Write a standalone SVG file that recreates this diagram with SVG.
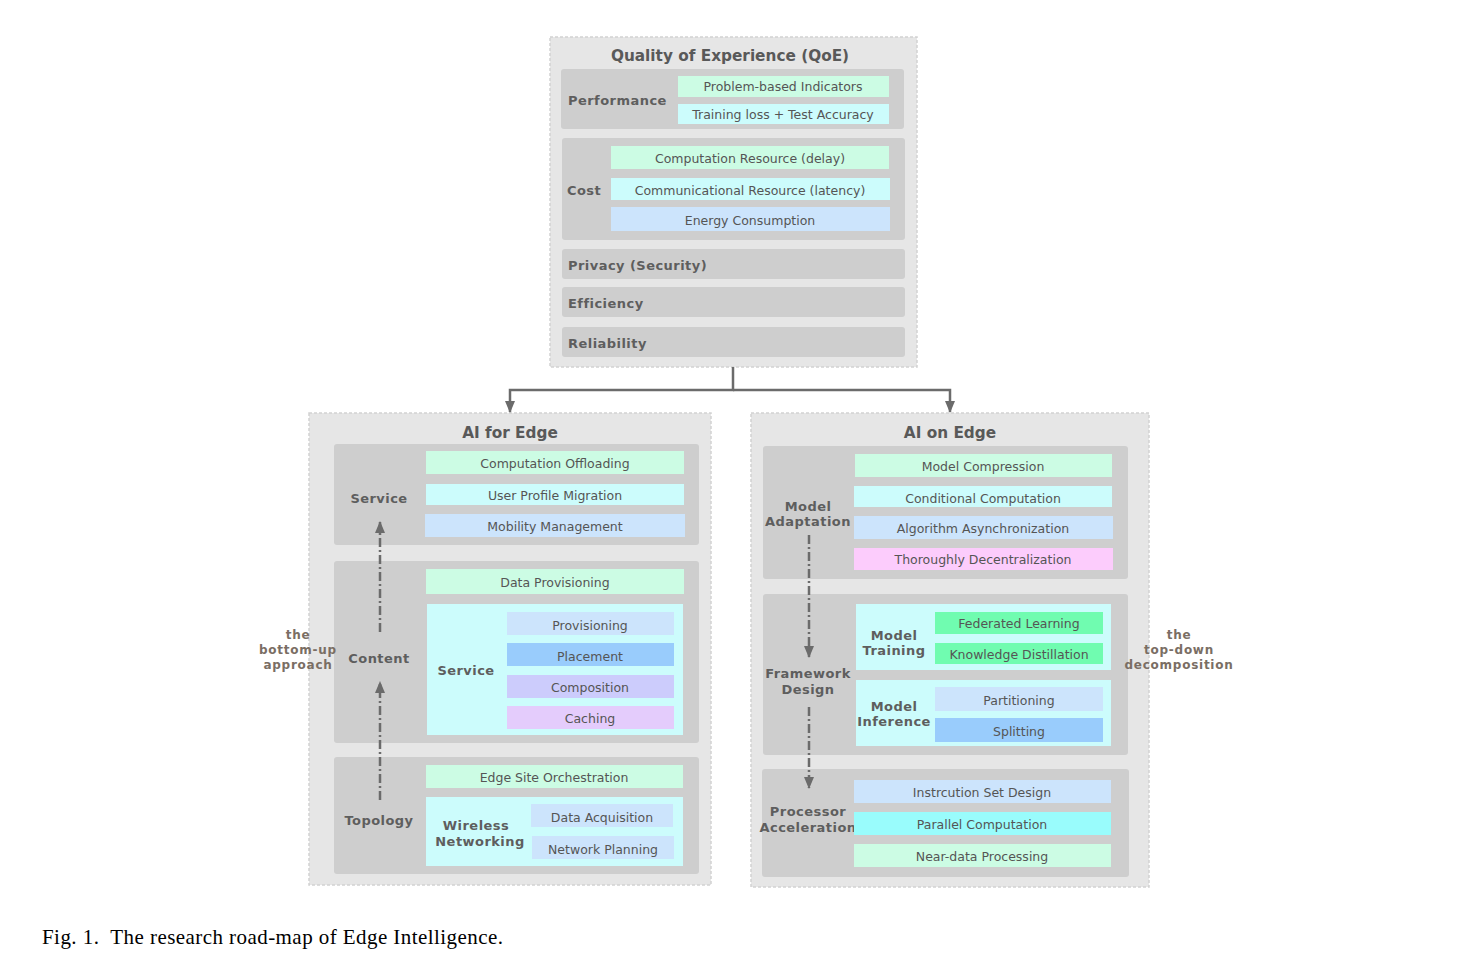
<svg xmlns="http://www.w3.org/2000/svg" width="1474" height="969" viewBox="0 0 1474 969">
<defs>
<style>
.outer{fill:#e6e6e6;stroke:#d2d2d2;stroke-width:1.5;stroke-dasharray:3 2}
.grp{fill:#cecece}
.sub{fill:#ccfcfc}
.mint{fill:#ccfce4}
.cyan{fill:#ccfcfc}
.lb{fill:#cce4fc}
.blue{fill:#99ccfc}
.lav{fill:#ccccfc}
.purp{fill:#e4ccfc}
.pink{fill:#fcccfc}
.green{fill:#70fcb0}
.aqua{fill:#99fcfc}
.it{font-family:"DejaVu Sans",Verdana,sans-serif;font-size:12.5px;fill:#555;text-anchor:middle}
.lbl{font-family:"DejaVu Sans",Verdana,sans-serif;font-size:13px;font-weight:bold;fill:#5e5e5e;letter-spacing:0.45px}
.ttl{font-family:"DejaVu Sans",Verdana,sans-serif;font-size:15.3px;font-weight:bold;fill:#595959;text-anchor:middle}
.side{font-family:"DejaVu Sans",Verdana,sans-serif;font-size:12px;font-weight:bold;fill:#7a6e64;text-anchor:middle;letter-spacing:0.75px}
.conn{fill:none;stroke:#6b6b6b;stroke-width:2.5}
.dash{fill:none;stroke:#6b6b6b;stroke-width:2.5;stroke-dasharray:9 3 2 3}
.cap{font-family:"Liberation Serif","Times New Roman",serif;font-size:21px;fill:#000}
</style>
<marker id="ah" viewBox="0 0 12 10" refX="11" refY="5" markerWidth="4.8" markerHeight="4" orient="auto" markerUnits="strokeWidth">
<path d="M0,0 L12,5 L0,10 z" fill="#6b6b6b"/>
</marker>
</defs>
<rect width="1474" height="969" fill="#fff"/>

<g id="qoe">
<rect class="outer" x="550" y="37" width="367" height="330"/>
<text class="ttl" x="730" y="61">Quality of Experience (QoE)</text>
</g>
<g id="performance">
<rect class="grp" x="561" y="69" width="343" height="60" rx="3"/>
<text class="lbl" x="568" y="105">Performance</text>
<rect class="mint" x="678" y="76" width="211" height="21"/>
<text class="it" x="783" y="91">Problem-based Indicators</text>
<rect class="cyan" x="678" y="104" width="211" height="20"/>
<text class="it" x="783" y="119">Training loss + Test Accuracy</text>
</g>
<g id="cost">
<rect class="grp" x="562" y="138" width="343" height="102" rx="3"/>
<text class="lbl" x="567" y="195">Cost</text>
<rect class="mint" x="611" y="146" width="278" height="23"/>
<text class="it" x="750" y="163">Computation Resource (delay)</text>
<rect class="cyan" x="611" y="178" width="279" height="22"/>
<text class="it" x="750" y="195">Communicational Resource (latency)</text>
<rect class="lb" x="611" y="207" width="279" height="24"/>
<text class="it" x="750" y="225">Energy Consumption</text>
</g>
<g id="privacy">
<rect class="grp" x="562" y="249" width="343" height="30" rx="3"/>
<text class="lbl" x="568" y="270">Privacy (Security)</text>
</g>
<g id="efficiency">
<rect class="grp" x="562" y="287" width="343" height="30" rx="3"/>
<text class="lbl" x="568" y="308">Efficiency</text>
</g>
<g id="reliability">
<rect class="grp" x="562" y="327" width="343" height="30" rx="3"/>
<text class="lbl" x="568" y="348">Reliability</text>
</g>

<g id="ai-for-edge">
<rect class="outer" x="309" y="413" width="402" height="472"/>
<text class="ttl" x="510" y="438">AI for Edge</text>
</g>
<g id="afe-service">
<rect class="grp" x="334" y="444" width="365" height="101" rx="3"/>
<text class="lbl" x="379" y="503" text-anchor="middle">Service</text>
<rect class="mint" x="426" y="451" width="258" height="23"/>
<text class="it" x="555" y="468">Computation Offloading</text>
<rect class="cyan" x="426" y="484" width="258" height="21"/>
<text class="it" x="555" y="500">User Profile Migration</text>
<rect class="lb" x="425" y="514" width="260" height="23"/>
<text class="it" x="555" y="531">Mobility Management</text>
</g>
<g id="afe-content">
<rect class="grp" x="334" y="561" width="365" height="182" rx="3"/>
<text class="lbl" x="379" y="663" text-anchor="middle">Content</text>
<rect class="mint" x="426" y="569" width="258" height="25"/>
<text class="it" x="555" y="587">Data Provisioning</text>
<rect class="sub" x="427" y="604" width="256" height="131"/>
<text class="lbl" x="466" y="675" text-anchor="middle">Service</text>
<rect class="lb" x="507" y="612" width="167" height="23"/>
<text class="it" x="590" y="630">Provisioning</text>
<rect class="blue" x="507" y="643" width="167" height="23"/>
<text class="it" x="590" y="661">Placement</text>
<rect class="lav" x="507" y="675" width="167" height="23"/>
<text class="it" x="590" y="692">Composition</text>
<rect class="purp" x="507" y="706" width="167" height="23"/>
<text class="it" x="590" y="723">Caching</text>
</g>
<g id="afe-topology">
<rect class="grp" x="334" y="757" width="365" height="117" rx="3"/>
<text class="lbl" x="379" y="825" text-anchor="middle">Topology</text>
<rect class="mint" x="426" y="765" width="257" height="23"/>
<text class="it" x="554" y="782">Edge Site Orchestration</text>
<rect class="sub" x="426" y="797" width="257" height="69"/>
<text class="lbl" x="476" y="830" text-anchor="middle">Wireless</text>
<text class="lbl" x="480" y="846" text-anchor="middle">Networking</text>
<rect class="lb" x="531" y="804" width="142" height="23"/>
<text class="it" x="602" y="822">Data Acquisition</text>
<rect class="lb" x="532" y="836" width="142" height="23"/>
<text class="it" x="603" y="854">Network Planning</text>
</g>
<g id="bottom-up-label">
<text class="side" x="298" y="639">the</text>
<text class="side" x="298" y="654">bottom-up</text>
<text class="side" x="298" y="669">approach</text>
</g>

<g id="ai-on-edge">
<rect class="outer" x="751" y="413" width="398" height="474"/>
<text class="ttl" x="950" y="438">AI on Edge</text>
</g>
<g id="aoe-model-adaptation">
<rect class="grp" x="763" y="446" width="365" height="133" rx="3"/>
<text class="lbl" x="808" y="511" text-anchor="middle">Model</text>
<text class="lbl" x="808" y="526" text-anchor="middle">Adaptation</text>
<rect class="mint" x="855" y="454" width="257" height="23"/>
<text class="it" x="983" y="471">Model Compression</text>
<rect class="cyan" x="854" y="486" width="258" height="21"/>
<text class="it" x="983" y="503">Conditional Computation</text>
<rect class="lb" x="854" y="516" width="259" height="23"/>
<text class="it" x="983" y="533">Algorithm Asynchronization</text>
<rect class="pink" x="854" y="548" width="259" height="22"/>
<text class="it" x="983" y="564">Thoroughly Decentralization</text>
</g>
<g id="aoe-framework-design">
<rect class="grp" x="763" y="594" width="365" height="161" rx="3"/>
<text class="lbl" x="808" y="678" text-anchor="middle">Framework</text>
<text class="lbl" x="808" y="694" text-anchor="middle">Design</text>
<rect class="sub" x="856" y="604" width="255" height="66"/>
<text class="lbl" x="894" y="640" text-anchor="middle">Model</text>
<text class="lbl" x="894" y="655" text-anchor="middle">Training</text>
<rect class="green" x="935" y="612" width="168" height="22"/>
<text class="it" x="1019" y="628">Federated Learning</text>
<rect class="green" x="935" y="643" width="168" height="21"/>
<text class="it" x="1019" y="659">Knowledge Distillation</text>
<rect class="sub" x="856" y="680" width="255" height="66"/>
<text class="lbl" x="894" y="711" text-anchor="middle">Model</text>
<text class="lbl" x="894" y="726" text-anchor="middle">Inference</text>
<rect class="lb" x="935" y="687" width="168" height="24"/>
<text class="it" x="1019" y="705">Partitioning</text>
<rect class="blue" x="935" y="718" width="168" height="24"/>
<text class="it" x="1019" y="736">Splitting</text>
</g>
<g id="aoe-processor-acceleration">
<rect class="grp" x="762" y="769" width="367" height="108" rx="3"/>
<text class="lbl" x="808" y="816" text-anchor="middle">Processor</text>
<text class="lbl" x="808" y="832" text-anchor="middle">Acceleration</text>
<rect class="lb" x="854" y="780" width="257" height="23"/>
<text class="it" x="982" y="797">Instrcution Set Design</text>
<rect class="aqua" x="854" y="812" width="257" height="23"/>
<text class="it" x="982" y="829">Parallel Computation</text>
<rect class="mint" x="854" y="844" width="257" height="23"/>
<text class="it" x="982" y="861">Near-data Processing</text>
</g>
<g id="top-down-label">
<text class="side" x="1179" y="639">the</text>
<text class="side" x="1179" y="654">top-down</text>
<text class="side" x="1179" y="669">decomposition</text>
</g>

<g id="connectors">
<path class="conn" d="M733,367 V390 H510 V412" marker-end="url(#ah)"/>
<path class="conn" d="M733,390 H950 V412" marker-end="url(#ah)"/>
<path class="dash" d="M380,632 V522" marker-end="url(#ah)"/>
<path class="dash" d="M380,800 V682" marker-end="url(#ah)"/>
<path class="dash" d="M809,535 V657" marker-end="url(#ah)"/>
<path class="dash" d="M809,707 V788" marker-end="url(#ah)"/>
</g>

<text class="cap" x="42" y="944" textLength="461" lengthAdjust="spacing" xml:space="preserve">Fig. 1.  The research road-map of Edge Intelligence.</text>
</svg>
